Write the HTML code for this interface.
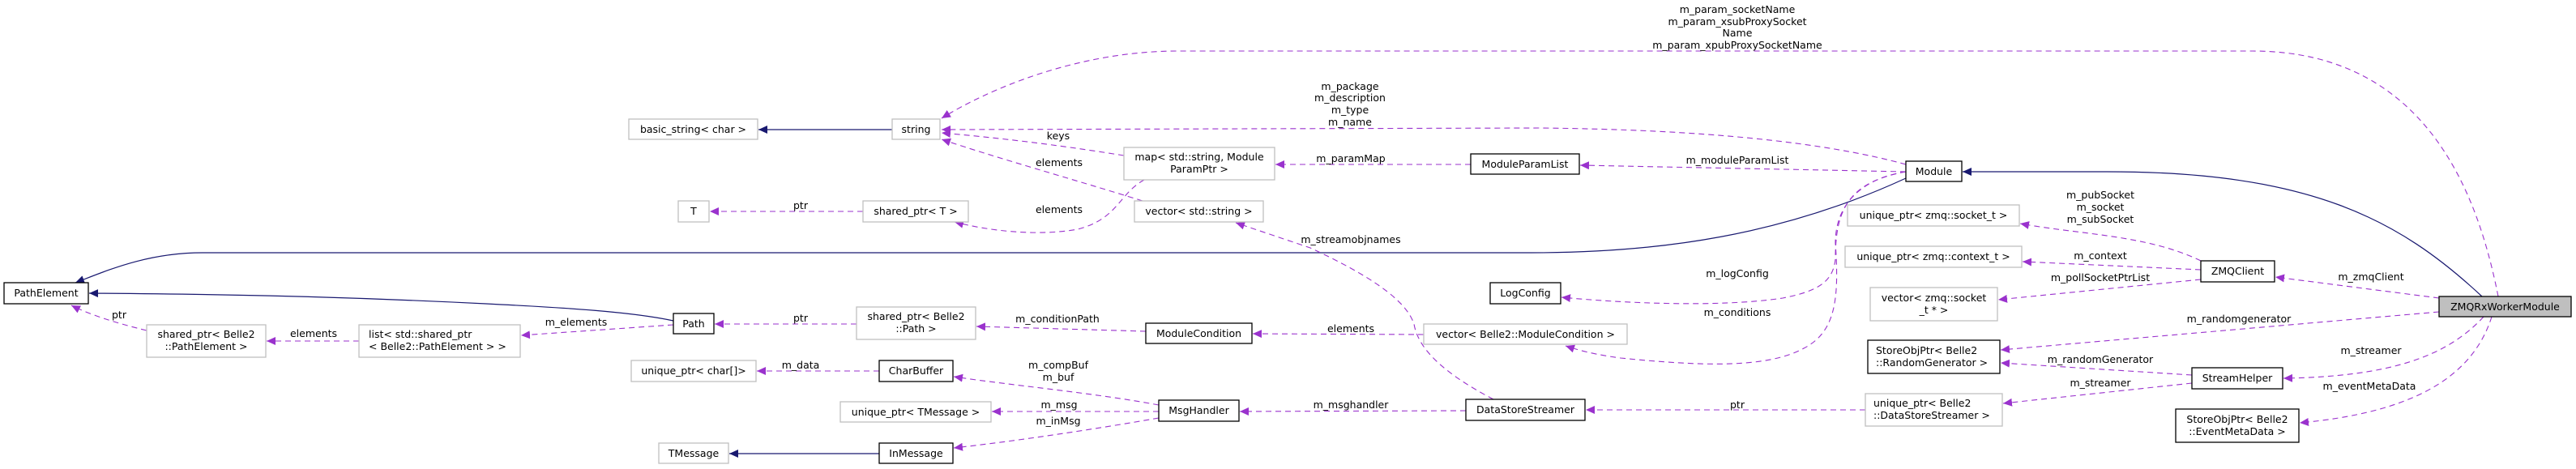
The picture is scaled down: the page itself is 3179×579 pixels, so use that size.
<!DOCTYPE html>
<html><head><meta charset="utf-8"><style>
html,body{margin:0;padding:0;background:#fff;}
svg{display:block;}
text{font-family:"DejaVu Sans","Liberation Sans",sans-serif;font-size:12.5px;fill:#000;}
.g{fill:#fff;stroke:#bfbfbf;stroke-width:1.3;}
.b{fill:#fff;stroke:#000;stroke-width:1.3;}
.p{fill:none;stroke:#9a32cd;stroke-width:1.1;stroke-dasharray:7,5;}
.n{fill:none;stroke:#191970;stroke-width:1.2;}
</style></head><body>
<svg width="3179" height="579" viewBox="0 0 3179 579" xmlns="http://www.w3.org/2000/svg">
<defs>
<marker id="ap" markerWidth="12" markerHeight="10" refX="11" refY="5" orient="auto" markerUnits="userSpaceOnUse"><path d="M0,0 L11,5 L0,10 z" fill="#9a32cd"/></marker>
<marker id="an" markerWidth="12" markerHeight="10" refX="11" refY="5" orient="auto" markerUnits="userSpaceOnUse"><path d="M0,0 L11,5 L0,10 z" fill="#191970"/></marker>
</defs>

<!-- inheritance edges -->
<path class="n" marker-end="url(#an)" d="M1101,160 L936,160"/>
<path class="n" marker-end="url(#an)" d="M2352,220 C2200,290 2050,312 1890,312 L250,312 C180,312 130,335 93,349"/>
<path class="n" marker-end="url(#an)" d="M831,396 C780,385 700,380 600,375 C400,365 250,363 110,362"/>
<path class="n" marker-end="url(#an)" d="M3063,366 C2960,270 2850,212 2600,212 L2422,212"/>
<path class="n" marker-end="url(#an)" d="M1085,560 L900,560"/>

<!-- dashed edges -->
<path class="p" marker-end="url(#ap)" d="M3083,366 C3060,250 3000,63 2780,63 L1454,63 C1330,63 1220,110 1162,146"/>
<path class="p" marker-end="url(#ap)" d="M2352,203 C2250,175 2100,160 1900,158 L1162,160"/>
<path class="p" marker-end="url(#ap)" d="M1387,192 C1300,178 1230,170 1162,164"/>
<path class="p" marker-end="url(#ap)" d="M1410,248 C1320,220 1230,195 1162,172"/>
<path class="p" marker-end="url(#ap)" d="M1412,222 C1380,240 1380,270 1330,283 C1280,292 1220,285 1178,274"/>
<path class="p" marker-end="url(#ap)" d="M1065,261 L876,261"/>
<path class="p" marker-end="url(#ap)" d="M1815,203 L1574,203"/>
<path class="p" marker-end="url(#ap)" d="M2352,212 L1950,204"/>
<path class="p" marker-end="url(#ap)" d="M2352,212 C2280,225 2265,260 2265,320 C2262,350 2240,360 2200,368 C2120,380 2000,374 1927,367"/>
<path class="p" marker-end="url(#ap)" d="M2352,212 C2300,220 2265,250 2265,300 C2270,370 2265,410 2226,430 C2180,455 2100,452 2000,442 C1970,438 1950,433 1932,427"/>
<path class="p" marker-end="url(#ap)" d="M1757,413 L1546,412"/>
<path class="p" marker-end="url(#ap)" d="M1414,409 L1205,403"/>
<path class="p" marker-end="url(#ap)" d="M1057,400 L882,400"/>
<path class="p" marker-end="url(#ap)" d="M831,401 L643,414"/>
<path class="p" marker-end="url(#ap)" d="M443,421 L329,421"/>
<path class="p" marker-end="url(#ap)" d="M181,408 C140,398 110,388 88,377"/>
<path class="p" marker-end="url(#ap)" d="M1843,493 C1780,460 1750,430 1745,400 C1735,370 1690,340 1617,306 L1525,275"/>
<path class="p" marker-end="url(#ap)" d="M1809,507 L1530,508"/>
<path class="p" marker-end="url(#ap)" d="M1430,500 C1350,485 1250,476 1177,465"/>
<path class="p" marker-end="url(#ap)" d="M1430,508 L1224,508"/>
<path class="p" marker-end="url(#ap)" d="M1430,516 C1350,530 1250,545 1177,553"/>
<path class="p" marker-end="url(#ap)" d="M1085,458 L934,458"/>
<path class="p" marker-end="url(#ap)" d="M2302,506 L1957,506"/>
<path class="p" marker-end="url(#ap)" d="M2716,322 C2650,290 2570,290 2493,276"/>
<path class="p" marker-end="url(#ap)" d="M2716,333 L2496,323"/>
<path class="p" marker-end="url(#ap)" d="M2716,345 L2466,370"/>
<path class="p" marker-end="url(#ap)" d="M3010,368 L2808,342"/>
<path class="p" marker-end="url(#ap)" d="M3010,385 L2469,432"/>
<path class="p" marker-end="url(#ap)" d="M2705,463 L2469,448"/>
<path class="p" marker-end="url(#ap)" d="M2705,473 L2472,498"/>
<path class="p" marker-end="url(#ap)" d="M3065,391 C3020,440 2950,465 2818,467"/>
<path class="p" marker-end="url(#ap)" d="M3075,391 C3050,470 2970,510 2838,522"/>

<!-- nodes -->
<rect class="b" x="5" y="349" width="104" height="26"/><text x="57" y="366" text-anchor="middle">PathElement</text>
<rect class="g" x="181" y="401" width="147" height="40"/><text x="254.5" y="417" text-anchor="middle">shared_ptr&lt; Belle2</text><text x="254.5" y="432" text-anchor="middle">::PathElement &gt;</text>
<rect class="g" x="443" y="401" width="199" height="40"/><text x="455" y="417">list&lt; std::shared_ptr</text><text x="455" y="432">&lt; Belle2::PathElement &gt; &gt;</text>
<rect class="g" x="776" y="147" width="159" height="25"/><text x="855.5" y="164" text-anchor="middle">basic_string&lt; char &gt;</text>
<rect class="g" x="1101" y="147" width="59" height="25"/><text x="1130.5" y="164" text-anchor="middle">string</text>
<rect class="g" x="837" y="248" width="38" height="26"/><text x="856" y="265" text-anchor="middle">T</text>
<rect class="g" x="1065" y="248" width="130" height="26"/><text x="1130" y="265" text-anchor="middle">shared_ptr&lt; T &gt;</text>
<rect class="b" x="831" y="387" width="50" height="25"/><text x="856" y="404" text-anchor="middle">Path</text>
<rect class="g" x="1057" y="379" width="147" height="40"/><text x="1130.5" y="395" text-anchor="middle">shared_ptr&lt; Belle2</text><text x="1130.5" y="410" text-anchor="middle">::Path &gt;</text>
<rect class="g" x="779" y="445" width="154" height="26"/><text x="856" y="462" text-anchor="middle">unique_ptr&lt; char[]&gt;</text>
<rect class="b" x="1085" y="445" width="91" height="26"/><text x="1130.5" y="462" text-anchor="middle">CharBuffer</text>
<rect class="g" x="1037" y="496" width="186" height="25"/><text x="1130" y="513" text-anchor="middle">unique_ptr&lt; TMessage &gt;</text>
<rect class="g" x="813" y="547" width="86" height="25"/><text x="856" y="564" text-anchor="middle">TMessage</text>
<rect class="b" x="1085" y="547" width="91" height="25"/><text x="1130.5" y="564" text-anchor="middle">InMessage</text>
<rect class="g" x="1387" y="182" width="186" height="40"/><text x="1480" y="198" text-anchor="middle">map&lt; std::string, Module</text><text x="1480" y="213" text-anchor="middle">ParamPtr &gt;</text>
<rect class="b" x="1815" y="190" width="134" height="25"/><text x="1882" y="207" text-anchor="middle">ModuleParamList</text>
<rect class="g" x="1400" y="248" width="159" height="26"/><text x="1479.5" y="265" text-anchor="middle">vector&lt; std::string &gt;</text>
<rect class="b" x="1839" y="349" width="87" height="26"/><text x="1882.5" y="366" text-anchor="middle">LogConfig</text>
<rect class="b" x="1414" y="399" width="131" height="25"/><text x="1479.5" y="416" text-anchor="middle">ModuleCondition</text>
<rect class="g" x="1757" y="400" width="251" height="25"/><text x="1882.5" y="417" text-anchor="middle">vector&lt; Belle2::ModuleCondition &gt;</text>
<rect class="b" x="1430" y="494" width="99" height="26"/><text x="1479.5" y="511" text-anchor="middle">MsgHandler</text>
<rect class="b" x="1809" y="493" width="147" height="26"/><text x="1882.5" y="510" text-anchor="middle">DataStoreStreamer</text>
<rect class="b" x="2352" y="199" width="69" height="25"/><text x="2386.5" y="216" text-anchor="middle">Module</text>
<rect class="g" x="2280" y="253" width="212" height="26"/><text x="2386" y="270" text-anchor="middle">unique_ptr&lt; zmq::socket_t &gt;</text>
<rect class="g" x="2277" y="304" width="218" height="26"/><text x="2386" y="321" text-anchor="middle">unique_ptr&lt; zmq::context_t &gt;</text>
<rect class="g" x="2308" y="355" width="157" height="41"/><text x="2386.5" y="372" text-anchor="middle">vector&lt; zmq::socket</text><text x="2386.5" y="387" text-anchor="middle">_t * &gt;</text>
<rect class="b" x="2716" y="322" width="91" height="26"/><text x="2761.5" y="339" text-anchor="middle">ZMQClient</text>
<rect x="3010" y="366" width="163" height="25" fill="#bfbfbf" stroke="#000" stroke-width="1.3"/><text x="3091.5" y="383" text-anchor="middle">ZMQRxWorkerModule</text>
<rect class="b" x="2305" y="420" width="163" height="41"/><text x="2315" y="437">StoreObjPtr&lt; Belle2</text><text x="2315" y="452">::RandomGenerator &gt;</text>
<rect class="b" x="2705" y="454" width="112" height="26"/><text x="2761" y="471" text-anchor="middle">StreamHelper</text>
<rect class="g" x="2302" y="486" width="169" height="40"/><text x="2312" y="502">unique_ptr&lt; Belle2</text><text x="2312" y="517">::DataStoreStreamer &gt;</text>
<rect class="b" x="2685" y="505" width="152" height="41"/><text x="2761" y="522" text-anchor="middle">StoreObjPtr&lt; Belle2</text><text x="2761" y="537" text-anchor="middle">::EventMetaData &gt;</text>

<!-- edge labels -->
<g text-anchor="middle">
<text x="147" y="393">ptr</text>
<text x="387" y="416">elements</text>
<text x="711" y="402">m_elements</text>
<text x="988" y="258">ptr</text>
<text x="988" y="397">ptr</text>
<text x="1305" y="398">m_conditionPath</text>
<text x="988" y="455">m_data</text>
<text x="1306" y="455">m_compBuf</text>
<text x="1306" y="470">m_buf</text>
<text x="1307" y="504">m_msg</text>
<text x="1306" y="524">m_inMsg</text>
<text x="1306" y="172">keys</text>
<text x="1307" y="205">elements</text>
<text x="1307" y="263">elements</text>
<text x="1666" y="111">m_package</text>
<text x="1666" y="125">m_description</text>
<text x="1666" y="140">m_type</text>
<text x="1666" y="155">m_name</text>
<text x="1667" y="200">m_paramMap</text>
<text x="1667" y="300">m_streamobjnames</text>
<text x="1667" y="410">elements</text>
<text x="1667" y="504">m_msghandler</text>
<text x="2144" y="16">m_param_socketName</text>
<text x="2144" y="31">m_param_xsubProxySocket</text>
<text x="2144" y="45">Name</text>
<text x="2144" y="60">m_param_xpubProxySocketName</text>
<text x="2144" y="202">m_moduleParamList</text>
<text x="2144" y="342">m_logConfig</text>
<text x="2144" y="390">m_conditions</text>
<text x="2144" y="504">ptr</text>
<text x="2592" y="245">m_pubSocket</text>
<text x="2592" y="260">m_socket</text>
<text x="2592" y="275">m_subSocket</text>
<text x="2592" y="320">m_context</text>
<text x="2592" y="347">m_pollSocketPtrList</text>
<text x="2926" y="346">m_zmqClient</text>
<text x="2763" y="398">m_randomgenerator</text>
<text x="2592" y="448">m_randomGenerator</text>
<text x="2926" y="437">m_streamer</text>
<text x="2592" y="477">m_streamer</text>
<text x="2924" y="481">m_eventMetaData</text>
</g>
</svg>
</body></html>
